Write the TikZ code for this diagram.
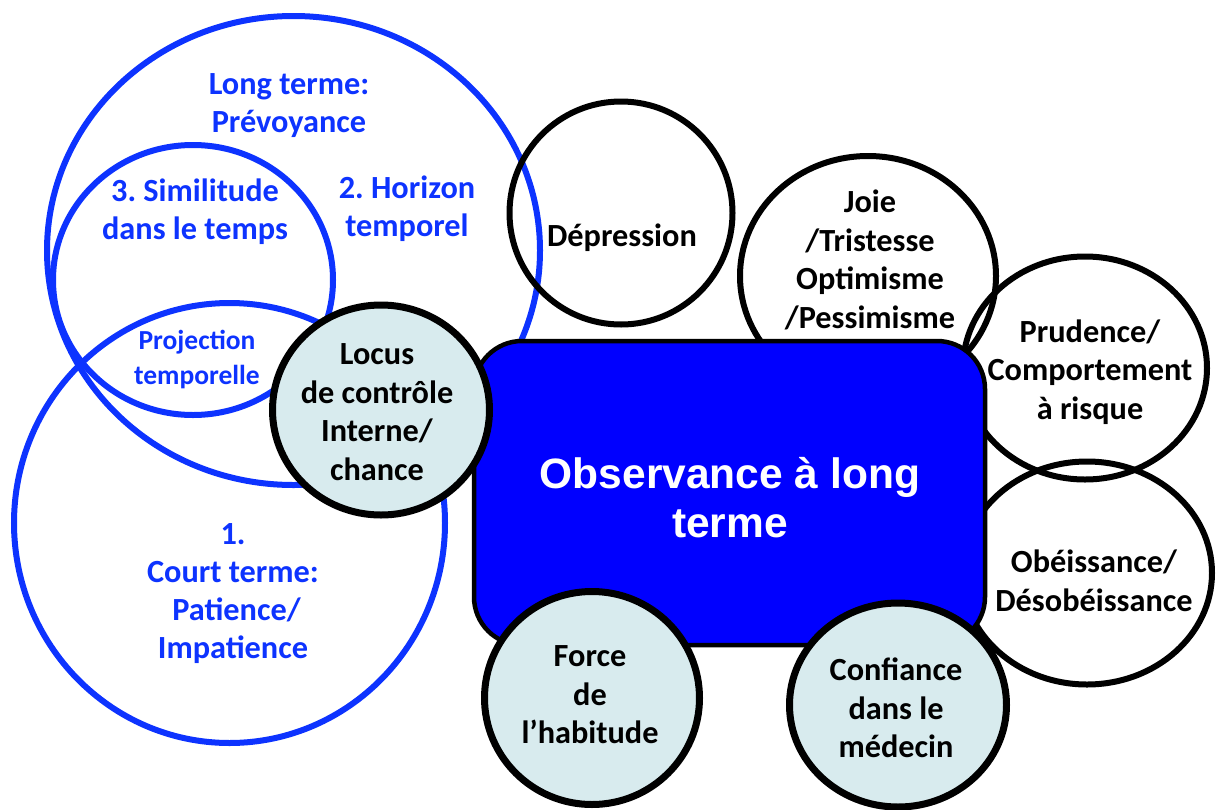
\documentclass[tikz,border=0pt]{standalone}
\usepackage{fontspec}
\setmainfont{Carlito}
\newfontfamily\arialfont{Liberation Sans}
\usetikzlibrary{shapes.geometric}
\frenchspacing
\definecolor{ringblue}{RGB}{13,51,255}
\definecolor{boxblue}{RGB}{0,0,255}
\definecolor{lightaqua}{RGB}{216,235,238}
\tikzset{
  bluering/.style={ellipse, draw=ringblue, line width=6pt, inner sep=0pt, outer sep=0pt},
  blackring/.style={ellipse, draw=black, line width=6pt, inner sep=0pt, outer sep=0pt},
  lightdisc/.style={ellipse, draw=black, fill=lightaqua, line width=7pt, inner sep=0pt, outer sep=0pt},
  mainbox/.style={rectangle, draw=black, fill=boxblue, line width=4.5pt, rounded corners=48pt, inner sep=0pt},
  bluelabel/.style={text=ringblue, font=\bfseries\fontsize{32.3}{38}\selectfont, align=center, inner sep=0pt},
  smallbluelabel/.style={text=ringblue, font=\bfseries\fontsize{27.5}{35}\selectfont, align=center, inner sep=0pt},
  blacklabel/.style={text=black, font=\bfseries\fontsize{32.3}{38.5}\selectfont, align=center, inner sep=0pt},
  boxlabel/.style={text=white, font=\arialfont\bfseries\fontsize{42.5}{49}\selectfont, align=center, inner sep=0pt}
}
\begin{document}
\begin{tikzpicture}[x=1pt,y=-1pt]
\useasboundingbox[fill=white] (0,0) rectangle (1216,809);
% blue time circles
\node[bluering, minimum width=493pt, minimum height=469pt] (longc) at (293.5,250.5) {};
\node[bluering, minimum width=280pt, minimum height=270pt] (simc) at (193,280) {};
\node[bluering, minimum width=431pt, minimum height=440pt] (courtc) at (229.5,523) {};
% black outline circles
\node[blackring, minimum width=223pt, minimum height=223pt] (depc) at (621,213) {};
\node[blackring, minimum width=256pt, minimum height=240pt] (joiec) at (868,276) {};
\node[blackring, minimum width=244pt, minimum height=223pt] (prudc) at (1085,368) {};
\node[blackring, minimum width=250pt, minimum height=223pt] (obec) at (1087,573) {};
% central box
\node[mainbox, minimum width=511pt, minimum height=304pt] (obs) at (729.5,493) {};
% light discs
\node[lightdisc, minimum width=217pt, minimum height=210pt] (locc) at (381,410) {};
\node[lightdisc, minimum width=215pt, minimum height=213pt] (forc) at (592,698) {};
\node[lightdisc, minimum width=217pt, minimum height=204pt] (confc) at (898,705) {};
% labels
\node[bluelabel] (longt) at (289,106) {Long terme:\\Prévoyance};
\node[bluelabel] (simt) at (195,212) {3. Similitude\\dans le temps};
\node[bluelabel] (hort) at (407,209) {2. Horizon\\temporel};
\node[smallbluelabel] (projt) at (197,359) {Projection\\temporelle};
\node[bluelabel] (courtt) at (233,594) {1.\\Court terme:\\\hspace*{7pt}Patience/\\Impatience};
\node[blacklabel] (dept) at (622,238) {Dépression};
\node[blacklabel] (joiet) at (870,260) {Joie\\/Tristesse\\Optimisme\\/Pessimisme};
\node[blacklabel] (prudt) at (1090,372) {Prudence/\\Comportement\\à risque};
\node[blacklabel] (obet) at (1094,581) {Obéissance/\\Désobéissance};
\node[blacklabel] (loct) at (377,412) {Locus\\de contrôle\\Interne/\\chance};
\node[blacklabel] (fort) at (590,695) {Force\\de\\l’habitude};
\node[blacklabel] (conft) at (896,708) {Confiance\\dans le\\médecin};
\node[boxlabel] (obst) at (730,498) {Observance à long\\terme};
\end{tikzpicture}
\end{document}
